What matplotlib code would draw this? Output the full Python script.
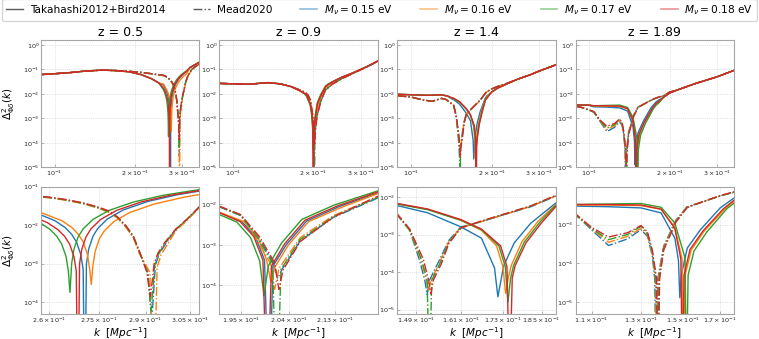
"""
Cross power spectrum Delta^2_{Phi delta}(k) for four neutrino masses,
Takahashi2012+Bird2014 (solid) vs Mead2020 (dash-dot), at four redshifts.
Top row: full k range, bottom row: zoom on the zero crossings.
"""
import matplotlib
matplotlib.use("Agg")
import matplotlib.pyplot as plt
from matplotlib.lines import Line2D
from matplotlib.ticker import FixedLocator, FixedFormatter, NullLocator

redshifts = ["0.5", "0.9", "1.4", "1.89"]
mnu_values = ["0.15", "0.16", "0.17", "0.18"]
colors = ["tab:blue", "tab:orange", "tab:green", "tab:red"]

# ---------------------------------------------------------------- z = 0.5
# far from the crossing all masses overlap
k05_T_far = [0.089, 0.1, 0.115, 0.13, 0.15, 0.17, 0.19, 0.21, 0.23, 0.245, 0.32, 0.335, 0.35]
y05_T_far = [0.062, 0.067, 0.075, 0.086, 0.094, 0.09, 0.08, 0.062, 0.042, 0.028, 0.12, 0.16, 0.21]
k05_M_far = [0.089, 0.1, 0.115, 0.13, 0.15, 0.17, 0.19, 0.21, 0.23, 0.245, 0.325, 0.335, 0.35]
y05_M_far = [0.062, 0.067, 0.075, 0.086, 0.094, 0.09, 0.084, 0.076, 0.067, 0.06, 0.1, 0.13, 0.18]
# near the crossing, one row per mass (0.15, 0.16, 0.17, 0.18)
k05_T = [
    [0.255, 0.2617, 0.2647, 0.2667, 0.2682, 0.2695, 0.2702, 0.2707, 0.2712, 0.2719, 0.2732, 0.2747, 0.2777, 0.2827, 0.2907, 0.3007, 0.312],
    [0.255, 0.2637, 0.2667, 0.2687, 0.2702, 0.2715, 0.2722, 0.2727, 0.2732, 0.2739, 0.2752, 0.2767, 0.2797, 0.2847, 0.2927, 0.3027, 0.312],
    [0.255, 0.2572, 0.2602, 0.2622, 0.2637, 0.2650, 0.2657, 0.2662, 0.2667, 0.2674, 0.2687, 0.2702, 0.2732, 0.2782, 0.2862, 0.2962, 0.312],
    [0.255, 0.2596, 0.2626, 0.2646, 0.2661, 0.2674, 0.2681, 0.2686, 0.2691, 0.2698, 0.2711, 0.2726, 0.2756, 0.2806, 0.2886, 0.2986, 0.312],
]
y05_T = [
    [0.0228, 0.013, 0.0087, 0.0058, 0.0036, 0.0017, 7e-4, 1e-7, 1e-3, 2.4e-3, 5.1e-3, 8.2e-3, 0.0144, 0.0246, 0.041, 0.0615, 0.0846],
    [0.0258, 0.0131, 0.0088, 0.0058, 0.0037, 0.00175, 7.3e-4, 2.9e-4, 8.8e-4, 2.1e-3, 4.4e-3, 7e-3, 0.0122, 0.021, 0.035, 0.0525, 0.069],
    [0.0146, 0.0117, 0.0078, 0.0052, 0.00325, 0.00156, 6.5e-4, 1.8e-4, 1e-3, 2.4e-3, 5e-3, 8e-3, 0.014, 0.024, 0.04, 0.06, 0.092],
    [0.0173, 0.0114, 0.0076, 0.0051, 0.0032, 0.00152, 6.4e-4, 1e-7, 1e-3, 2.4e-3, 5e-3, 8e-3, 0.014, 0.024, 0.04, 0.06, 0.0868],
]
k05_M = [
    [0.255, 0.26, 0.265, 0.27, 0.2745, 0.2784, 0.281, 0.2837, 0.286, 0.288, 0.2908, 0.2920, 0.2932, 0.2945, 0.2968, 0.30, 0.3037, 0.3082, 0.314],
    [0.255, 0.26, 0.265, 0.27, 0.2745, 0.2784, 0.281, 0.2837, 0.286, 0.288, 0.2914, 0.2926, 0.2938, 0.2951, 0.2972, 0.30, 0.3037, 0.3082, 0.314],
    [0.255, 0.26, 0.265, 0.27, 0.2745, 0.2784, 0.281, 0.2837, 0.286, 0.288, 0.2906, 0.2918, 0.2930, 0.2943, 0.2966, 0.30, 0.3037, 0.3082, 0.314],
    [0.255, 0.26, 0.265, 0.27, 0.2745, 0.2784, 0.281, 0.2837, 0.286, 0.288, 0.2904, 0.2916, 0.2928, 0.2941, 0.2964, 0.30, 0.3037, 0.3082, 0.314],
]
y05_M = [
    [0.057, 0.052, 0.045, 0.037, 0.029, 0.022, 0.0155, 0.009, 0.0049, 0.0019, 6e-4, 3e-5, 9e-4, 1.8e-3, 3.4e-3, 7.5e-3, 0.0134, 0.029, 0.052],
    [0.056, 0.051, 0.044, 0.036, 0.028, 0.021, 0.015, 0.0085, 0.0047, 0.0018, 6e-4, 1e-7, 8e-4, 1.7e-3, 3.1e-3, 7e-3, 0.0128, 0.028, 0.05],
    [0.057, 0.052, 0.045, 0.037, 0.029, 0.022, 0.0157, 0.0092, 0.005, 0.002, 6e-4, 6e-5, 9e-4, 1.8e-3, 3.5e-3, 7.6e-3, 0.0136, 0.0295, 0.053],
    [0.058, 0.053, 0.046, 0.038, 0.030, 0.023, 0.016, 0.0095, 0.0052, 0.0021, 6e-4, 1.4e-4, 1e-3, 1.9e-3, 3.6e-3, 7.8e-3, 0.0138, 0.030, 0.054],
]

# ---------------------------------------------------------------- z = 0.9
k09_T_far = [0.089, 0.1, 0.115, 0.135, 0.15, 0.165, 0.178, 0.185, 0.235, 0.255, 0.28, 0.3, 0.325, 0.35]
y09_T_far = [0.027, 0.026, 0.025, 0.029, 0.026, 0.02, 0.0135, 0.0105, 0.031, 0.048, 0.072, 0.1, 0.15, 0.23]
k09_M_far = [0.089, 0.1, 0.115, 0.135, 0.15, 0.165, 0.178, 0.185, 0.235, 0.255, 0.28, 0.3, 0.325, 0.35]
y09_M_far = [0.027, 0.026, 0.025, 0.029, 0.026, 0.02, 0.0145, 0.012, 0.025, 0.042, 0.068, 0.097, 0.148, 0.23]
k09_T = [
    [0.188, 0.1952, 0.1977, 0.1994, 0.2002, 0.2010, 0.2035, 0.2074, 0.2138, 0.2217, 0.225],
    [0.188, 0.1956, 0.1981, 0.1998, 0.2006, 0.2014, 0.2039, 0.2078, 0.2142, 0.2217, 0.225],
    [0.188, 0.1943, 0.1968, 0.1985, 0.1993, 0.2001, 0.2026, 0.2065, 0.2129, 0.2217, 0.225],
    [0.188, 0.1949, 0.1974, 0.1991, 0.1999, 0.2007, 0.2032, 0.2071, 0.2135, 0.2217, 0.225],
]
y09_T = [
    [0.0093, 0.0037, 0.0016, 4.2e-4, 1e-7, 3e-4, 1e-3, 3.8e-3, 8.6e-3, 0.0188, 0.0215],
    [0.0092, 0.0037, 0.0016, 4.2e-4, 1.2e-4, 2.9e-4, 9.8e-4, 3.7e-3, 8.2e-3, 0.018, 0.0205],
    [0.0085, 0.0036, 0.0015, 4e-4, 5.5e-5, 3e-4, 1.1e-3, 4.2e-3, 9.5e-3, 0.021, 0.024],
    [0.0095, 0.0037, 0.0016, 4.2e-4, 1e-7, 3e-4, 1.05e-3, 4e-3, 9e-3, 0.0197, 0.0225],
]
k09_M = [
    [0.188, 0.1911, 0.195, 0.1983, 0.2011, 0.2019, 0.2027, 0.2062, 0.2127, 0.2217, 0.225],
    [0.188, 0.1911, 0.195, 0.1977, 0.2005, 0.2013, 0.2021, 0.2062, 0.2127, 0.2217, 0.225],
    [0.188, 0.1911, 0.195, 0.1981, 0.2009, 0.2017, 0.2025, 0.2062, 0.2127, 0.2217, 0.225],
    [0.188, 0.1911, 0.195, 0.1985, 0.2013, 0.2021, 0.2029, 0.2062, 0.2127, 0.2217, 0.225],
]
y09_M = [
    [0.0104, 0.0086, 0.0052, 1.5e-3, 3.5e-4, 1.5e-4, 2.5e-4, 1.25e-3, 4.7e-3, 0.014, 0.016],
    [0.0105, 0.0088, 0.0054, 1.5e-3, 3.5e-4, 8e-5, 2.6e-4, 1.5e-3, 5.2e-3, 0.015, 0.017],
    [0.0105, 0.0087, 0.0053, 1.5e-3, 3.5e-4, 1e-7, 2.5e-4, 1.35e-3, 4.9e-3, 0.0145, 0.0165],
    [0.0106, 0.0089, 0.0055, 1.55e-3, 3.6e-4, 8e-5, 2.4e-4, 1.2e-3, 4.8e-3, 0.0155, 0.0175],
]

# ---------------------------------------------------------------- z = 1.4
k14_T_far = [0.089, 0.1, 0.115, 0.13, 0.137, 0.2, 0.21, 0.23, 0.25, 0.28, 0.3, 0.35]
y14_T_far = [0.0097, 0.0093, 0.0088, 0.0092, 0.0082, 0.012, 0.017, 0.027, 0.04, 0.062, 0.085, 0.16]
k14_M_far = [0.089, 0.1, 0.11, 0.12, 0.13, 0.135, 0.2, 0.21, 0.23, 0.25, 0.28, 0.3, 0.35]
y14_M_far = [0.0085, 0.0075, 0.0058, 0.005, 0.0066, 0.006, 0.016, 0.02, 0.028, 0.04, 0.062, 0.085, 0.16]
k14_T = [
    [0.142, 0.1443, 0.152, 0.161, 0.1668, 0.1706, 0.1716, 0.1733, 0.1765, 0.1816, 0.1896, 0.192],
    [0.142, 0.1443, 0.152, 0.161, 0.1668, 0.1712, 0.1731, 0.1739, 0.1747, 0.1756, 0.1789, 0.184, 0.1896, 0.192],
    [0.142, 0.1443, 0.152, 0.161, 0.1668, 0.1719, 0.1738, 0.1746, 0.1754, 0.1763, 0.1796, 0.1846, 0.1896, 0.192],
    [0.142, 0.1443, 0.152, 0.161, 0.1668, 0.1724, 0.1743, 0.1751, 0.1759, 0.1768, 0.1801, 0.1851, 0.1896, 0.192],
]
y14_T = [
    [0.0063, 0.0059, 0.0038, 0.0016, 8e-4, 1.3e-4, 2.2e-5, 1.45e-4, 6e-4, 2e-3, 6.9e-3, 8.3e-3],
    [0.0069, 0.0066, 0.0047, 0.0024, 1.3e-3, 5e-4, 1.4e-4, 2.7e-5, 7e-5, 1.5e-4, 6.5e-4, 2.3e-3, 6.3e-3, 7.5e-3],
    [0.0068, 0.0065, 0.0046, 0.0024, 1.35e-3, 5e-4, 1.4e-4, 1.6e-5, 7e-5, 1.5e-4, 6.3e-4, 2.2e-3, 6e-3, 7.1e-3],
    [0.007, 0.0067, 0.0048, 0.0025, 1.4e-3, 5e-4, 1.4e-4, 1e-7, 7e-5, 1.5e-4, 6e-4, 2.1e-3, 5.5e-3, 6.6e-3],
]
k14_M = [
    [0.142, 0.1443, 0.1474, 0.1499, 0.1513, 0.1519, 0.1525, 0.1547, 0.1577, 0.161, 0.1668, 0.173, 0.1816, 0.1896, 0.192],
    [0.142, 0.1443, 0.1474, 0.1503, 0.1517, 0.1523, 0.1529, 0.1551, 0.1577, 0.161, 0.1668, 0.173, 0.1816, 0.1896, 0.192],
    [0.142, 0.1443, 0.1474, 0.1505, 0.1519, 0.1525, 0.1531, 0.1553, 0.1577, 0.161, 0.1668, 0.173, 0.1816, 0.1896, 0.192],
    [0.142, 0.1443, 0.1474, 0.1509, 0.1523, 0.1529, 0.1535, 0.1557, 0.1577, 0.161, 0.1668, 0.173, 0.1816, 0.1896, 0.192],
]
y14_M = [
    [0.0038, 0.0033, 0.0013, 2.1e-4, 6e-5, 2.5e-5, 6e-5, 1.7e-4, 7e-4, 1.6e-3, 2.2e-3, 3.3e-3, 5.5e-3, 0.0105, 0.012],
    [0.0039, 0.0034, 0.0013, 2.1e-4, 6e-5, 3e-5, 6e-5, 1.7e-4, 6.5e-4, 1.55e-3, 2.2e-3, 3.3e-3, 5.6e-3, 0.0107, 0.0122],
    [0.0039, 0.0034, 0.0013, 2.1e-4, 6e-5, 1e-7, 6e-5, 1.7e-4, 6.2e-4, 1.5e-3, 2.25e-3, 3.4e-3, 5.7e-3, 0.0108, 0.0123],
    [0.004, 0.0035, 0.0014, 2.2e-4, 6e-5, 2.6e-5, 6e-5, 1.7e-4, 5.8e-4, 1.5e-3, 2.3e-3, 3.4e-3, 5.8e-3, 0.011, 0.0125],
]

# ---------------------------------------------------------------- z = 1.89
k189_T_far = [0.089, 0.095, 0.1, 0.19, 0.2, 0.215, 0.25, 0.3, 0.35]
y189_T_far = [0.0036, 0.0035, 0.0035, 0.0075, 0.011, 0.015, 0.027, 0.05, 0.095]
k189_M_far = [0.089, 0.095, 0.1, 0.19, 0.2, 0.215, 0.25, 0.3, 0.35]
y189_M_far = [0.0032, 0.0027, 0.0022, 0.0085, 0.012, 0.015, 0.027, 0.05, 0.095]
k189_T = [
    [0.102, 0.1042, 0.1162, 0.13, 0.1392, 0.1458, 0.1476, 0.1483, 0.149, 0.1521, 0.159, 0.170, 0.178, 0.182],
    [0.102, 0.1042, 0.1162, 0.13, 0.1392, 0.1458, 0.1494, 0.1502, 0.151, 0.1541, 0.161, 0.1725, 0.178, 0.182],
    [0.102, 0.1042, 0.1162, 0.13, 0.1392, 0.1458, 0.1509, 0.1517, 0.1525, 0.1556, 0.1625, 0.174, 0.178, 0.182],
    [0.102, 0.1042, 0.1162, 0.13, 0.1392, 0.1458, 0.1488, 0.1496, 0.1504, 0.1535, 0.1605, 0.172, 0.178, 0.182],
]
y189_T = [
    [0.0031, 0.003, 0.0029, 0.0027, 0.002, 4.5e-4, 1.2e-4, 1.3e-5, 5e-5, 2.5e-4, 7.4e-4, 2.7e-3, 4.8e-3, 5.6e-3],
    [0.0033, 0.0032, 0.0032, 0.0031, 0.0025, 8.5e-4, 1.3e-4, 1e-7, 5e-5, 2.2e-4, 6.8e-4, 2.5e-3, 3.9e-3, 4.7e-3],
    [0.0034, 0.0033, 0.0034, 0.0035, 0.0028, 1.1e-3, 1.4e-4, 1e-7, 5e-5, 2.1e-4, 6.5e-4, 2.6e-3, 3.5e-3, 4.3e-3],
    [0.0034, 0.0033, 0.0033, 0.0032, 0.0025, 8e-4, 1.3e-4, 1e-7, 5e-5, 2.3e-4, 7e-4, 2.6e-3, 4.2e-3, 5e-3],
]
k189_M = [
    [0.102, 0.1042, 0.11, 0.1165, 0.1243, 0.13, 0.1329, 0.1351, 0.1362, 0.1369, 0.1376, 0.1404, 0.1463, 0.152, 0.159, 0.170, 0.178, 0.182],
    [0.102, 0.1042, 0.11, 0.1165, 0.1243, 0.13, 0.1329, 0.1351, 0.1365, 0.1372, 0.1379, 0.1404, 0.1463, 0.152, 0.159, 0.170, 0.178, 0.182],
    [0.102, 0.1042, 0.11, 0.1165, 0.1243, 0.13, 0.1329, 0.1351, 0.1368, 0.1375, 0.1382, 0.1404, 0.1463, 0.152, 0.159, 0.170, 0.178, 0.182],
    [0.102, 0.1042, 0.11, 0.1165, 0.1243, 0.13, 0.1329, 0.1351, 0.1371, 0.1378, 0.1385, 0.1404, 0.1463, 0.152, 0.159, 0.170, 0.178, 0.182],
]
y189_M = [
    [0.002, 0.0018, 7.4e-4, 2.9e-4, 4.3e-4, 7.4e-4, 5e-4, 1.6e-4, 4e-5, 1e-7, 4e-5, 2.8e-4, 1.3e-3, 2.9e-3, 3.7e-3, 5.5e-3, 6.8e-3, 7.3e-3],
    [0.002, 0.0018, 7.8e-4, 3.5e-4, 5e-4, 8e-4, 5.5e-4, 1.8e-4, 4e-5, 1e-7, 4e-5, 2.6e-4, 1.25e-3, 2.85e-3, 3.7e-3, 5.5e-3, 6.8e-3, 7.3e-3],
    [0.002, 0.0018, 8e-4, 4.1e-4, 5.6e-4, 9e-4, 6e-4, 2e-4, 4e-5, 1e-7, 4e-5, 2.4e-4, 1.2e-3, 2.8e-3, 3.7e-3, 5.5e-3, 6.9e-3, 7.4e-3],
    [0.0021, 0.0019, 8.5e-4, 4.8e-4, 6.2e-4, 9.5e-4, 6.5e-4, 2.2e-4, 4e-5, 1e-7, 4e-5, 2.2e-4, 1.15e-3, 2.75e-3, 3.7e-3, 5.6e-3, 7e-3, 7.5e-3],
]

# axis ranges and ticks
top_xlim = (0.089, 0.347)
top_ylim = (1e-5, 1.6)
top_xticks = [0.1, 0.2, 0.3]
top_xticklabels = [r"$10^{-1}$", r"$2\times10^{-1}$", r"$3\times10^{-1}$"]
bottom_xlims = [(0.2576, 0.3082), (0.1911, 0.2217), (0.1443, 0.1896), (0.1042, 0.1781)]
bottom_ylims = [(5e-5, 0.1), (2e-5, 0.027), (7.7e-6, 0.019), (5e-6, 9.6e-3)]
bottom_xticks = [[0.26, 0.275, 0.29, 0.305], [0.195, 0.204, 0.213, 0.222],
                 [0.149, 0.161, 0.173, 0.185], [0.11, 0.13, 0.15, 0.17]]
bottom_xticklabels = [["2.6", "2.75", "2.9", "3.05"], ["1.95", "2.04", "2.13", "2.22"],
                      ["1.49", "1.61", "1.73", "1.85"], ["1.1", "1.3", "1.5", "1.7"]]

far_T = [(k05_T_far, y05_T_far), (k09_T_far, y09_T_far), (k14_T_far, y14_T_far), (k189_T_far, y189_T_far)]
far_M = [(k05_M_far, y05_M_far), (k09_M_far, y09_M_far), (k14_M_far, y14_M_far), (k189_M_far, y189_M_far)]
near_T = [(k05_T, y05_T), (k09_T, y09_T), (k14_T, y14_T), (k189_T, y189_T)]
near_M = [(k05_M, y05_M), (k09_M, y09_M), (k14_M, y14_M), (k189_M, y189_M)]


def join(k_far, y_far, k_win, y_win):
    """far points left of the window + window points + far points right of it"""
    lo, hi = k_win[0], k_win[-1]
    left = [(k, y) for k, y in zip(k_far, y_far) if k < lo]
    right = [(k, y) for k, y in zip(k_far, y_far) if k > hi]
    k = [p[0] for p in left] + list(k_win) + [p[0] for p in right]
    y = [p[1] for p in left] + list(y_win) + [p[1] for p in right]
    return k, y


def style(ax):
    ax.set_xscale("log")
    ax.set_yscale("log")
    for s in ax.spines.values():
        s.set_color("0.65")
        s.set_linewidth(0.8)
    ax.grid(True, which="major", color="0.8", lw=0.5, ls=":")
    ax.tick_params(which="both", direction="in", length=2, width=0.5, color="0.6",
                   labelcolor="0.15", labelsize=4.6, pad=1.2)
    ax.yaxis.set_minor_locator(NullLocator())
    ax.xaxis.set_minor_locator(NullLocator())


fig = plt.figure(figsize=(7.59, 3.39), dpi=100)
gs = fig.add_gridspec(2, 4, left=0.054, right=0.967, top=0.882, bottom=0.074,
                      wspace=0.125, hspace=0.15)

for col in range(4):
    curves_T = [join(*far_T[col], near_T[col][0][i], near_T[col][1][i]) for i in range(4)]
    curves_M = [join(*far_M[col], near_M[col][0][i], near_M[col][1][i]) for i in range(4)]

    for row in range(2):
        ax = fig.add_subplot(gs[row, col])
        style(ax)
        for i, c in enumerate(colors):
            ax.plot(*curves_T[i], color=c, lw=1.0, ls="-")
            ax.plot(*curves_M[i], color=c, lw=1.0, ls="-.")

        if row == 0:
            ax.set_xlim(*top_xlim)
            ax.set_ylim(*top_ylim)
            ax.xaxis.set_major_locator(FixedLocator(top_xticks))
            ax.xaxis.set_major_formatter(FixedFormatter(top_xticklabels))
            ax.set_title("z = " + redshifts[col], fontsize=9, pad=3)
        else:
            ax.set_xlim(*bottom_xlims[col])
            ax.set_ylim(*bottom_ylims[col])
            ax.xaxis.set_major_locator(FixedLocator(bottom_xticks[col]))
            ax.xaxis.set_major_formatter(FixedFormatter(
                [r"$%s\times10^{-1}$" % s for s in bottom_xticklabels[col]]))
            ax.set_xlabel(r"$k\ \ [Mpc^{-1}]$", fontsize=7.5)
            ax.xaxis.set_label_coords(0.5, -0.085)
        if col == 0:
            ax.set_ylabel(r"$\Delta^2_{\Phi\delta}(k)$", fontsize=7.5)
            ax.yaxis.set_label_coords(-0.15, 0.5)

handles = [Line2D([], [], color="0.35", lw=1.0, ls="-"),
           Line2D([], [], color="0.35", lw=1.0, ls="-.")]
handles += [Line2D([], [], color=c, lw=1.2, alpha=0.5) for c in colors]
labels = ["Takahashi2012+Bird2014", "Mead2020"]
labels += [r"$M_\nu = %s$ eV" % m for m in mnu_values]
fig.legend(handles, labels, loc="lower left", bbox_to_anchor=(0.003, 0.938, 0.994, 0.06),
           mode="expand", ncol=6, fontsize=7.6, frameon=True, borderaxespad=0,
           handlelength=1.6, handletextpad=0.6, edgecolor="0.8", fancybox=True)

fig.savefig("out.png", dpi=100)
